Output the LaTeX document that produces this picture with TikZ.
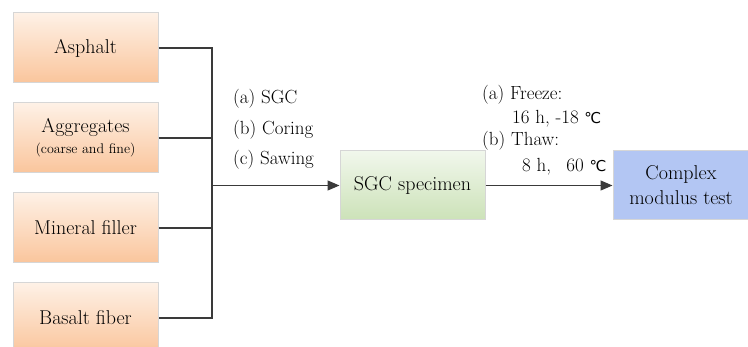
\documentclass[tikz,border=0pt]{standalone}
\usepackage{fontspec}
\newfontfamily\symfont{DejaVu Sans}
\usetikzlibrary{arrows.meta}
\definecolor{peachtop}{HTML}{FEF1E6}
\definecolor{peachbot}{HTML}{FAC59C}
\definecolor{greentop}{HTML}{F1F7EC}
\definecolor{greenbot}{HTML}{CCE2B8}
\definecolor{bluebox}{HTML}{B3C6F3}
\definecolor{boxline}{HTML}{D6D6D6}
\definecolor{conn}{HTML}{3A3A3A}
\newcommand{\degC}{{\symfont\fontsize{15}{15}\selectfont ℃}}
\tikzset{
  matbox/.style={draw=boxline, line width=1pt, top color=peachtop, bottom color=peachbot,
    minimum width=145pt, minimum height=70pt, inner sep=0pt, align=center,
    font=\fontsize{20}{25}\selectfont},
  specbox/.style={draw=boxline, line width=1pt, top color=greentop, bottom color=greenbot,
    minimum width=145pt, minimum height=69pt, inner sep=0pt, align=center,
    font=\fontsize{20}{25}\selectfont},
  testbox/.style={draw=boxline, line width=1pt, fill=bluebox,
    minimum width=136pt, minimum height=69pt, inner sep=0pt, align=center,
    font=\fontsize{20}{25}\selectfont},
  lab/.style={anchor=base west, inner sep=0pt, font=\fontsize{19}{23}\selectfont},
  wire/.style={draw=conn, line width=1.3pt},
  arr/.style={wire, -{Triangle[length=12pt,width=10pt]}}
}
\begin{document}
\begin{tikzpicture}[x=1pt,y=-1pt]
\useasboundingbox (0,0) rectangle (748,347);
\clip (0,0) rectangle (748,347);
\node[matbox] (asph) at (85.5,48) {Asphalt};
\node[matbox] (agg) at (85.5,138) {Aggregates\\[-4pt]{\fontsize{14}{16}\selectfont(coarse and fine)}};
\node[matbox] (min) at (85.5,228) {Mineral filler};
\node[matbox] (bas) at (85.5,318) {Basalt fiber};
\node[specbox] (sgc) at (412.5,185.5) {SGC specimen};
\node[testbox] (cmt) at (681,185.5) {Complex\\modulus test};
\coordinate (bus) at (212,185.5);
\coordinate (busb) at (212,318);
\draw[wire] (asph.east) -| (busb) -- (bas.east);
\draw[wire] (agg.east) -- (agg.east -| busb);
\draw[wire] (min.east) -- (min.east -| busb);
\draw[arr] (bus) -- (sgc.west);
\draw[arr] (sgc.east) -- (cmt.west);
\node[lab] (la) at (233,104) {(a) SGC};
\node[lab] (lb) at (233,135) {(b) Coring};
\node[lab] (lc) at (233,165) {(c) Sawing};
\node[lab] (fa) at (482,100) {(a) Freeze:};
\node[lab] (fb) at (512,124) {16 h, -18 \degC};
\node[lab] (ta) at (482,146) {(b) Thaw:};
\node[lab] (tb) at (522,172) {8 h,\hspace{0.8em}60 \degC};
\end{tikzpicture}
\end{document}
